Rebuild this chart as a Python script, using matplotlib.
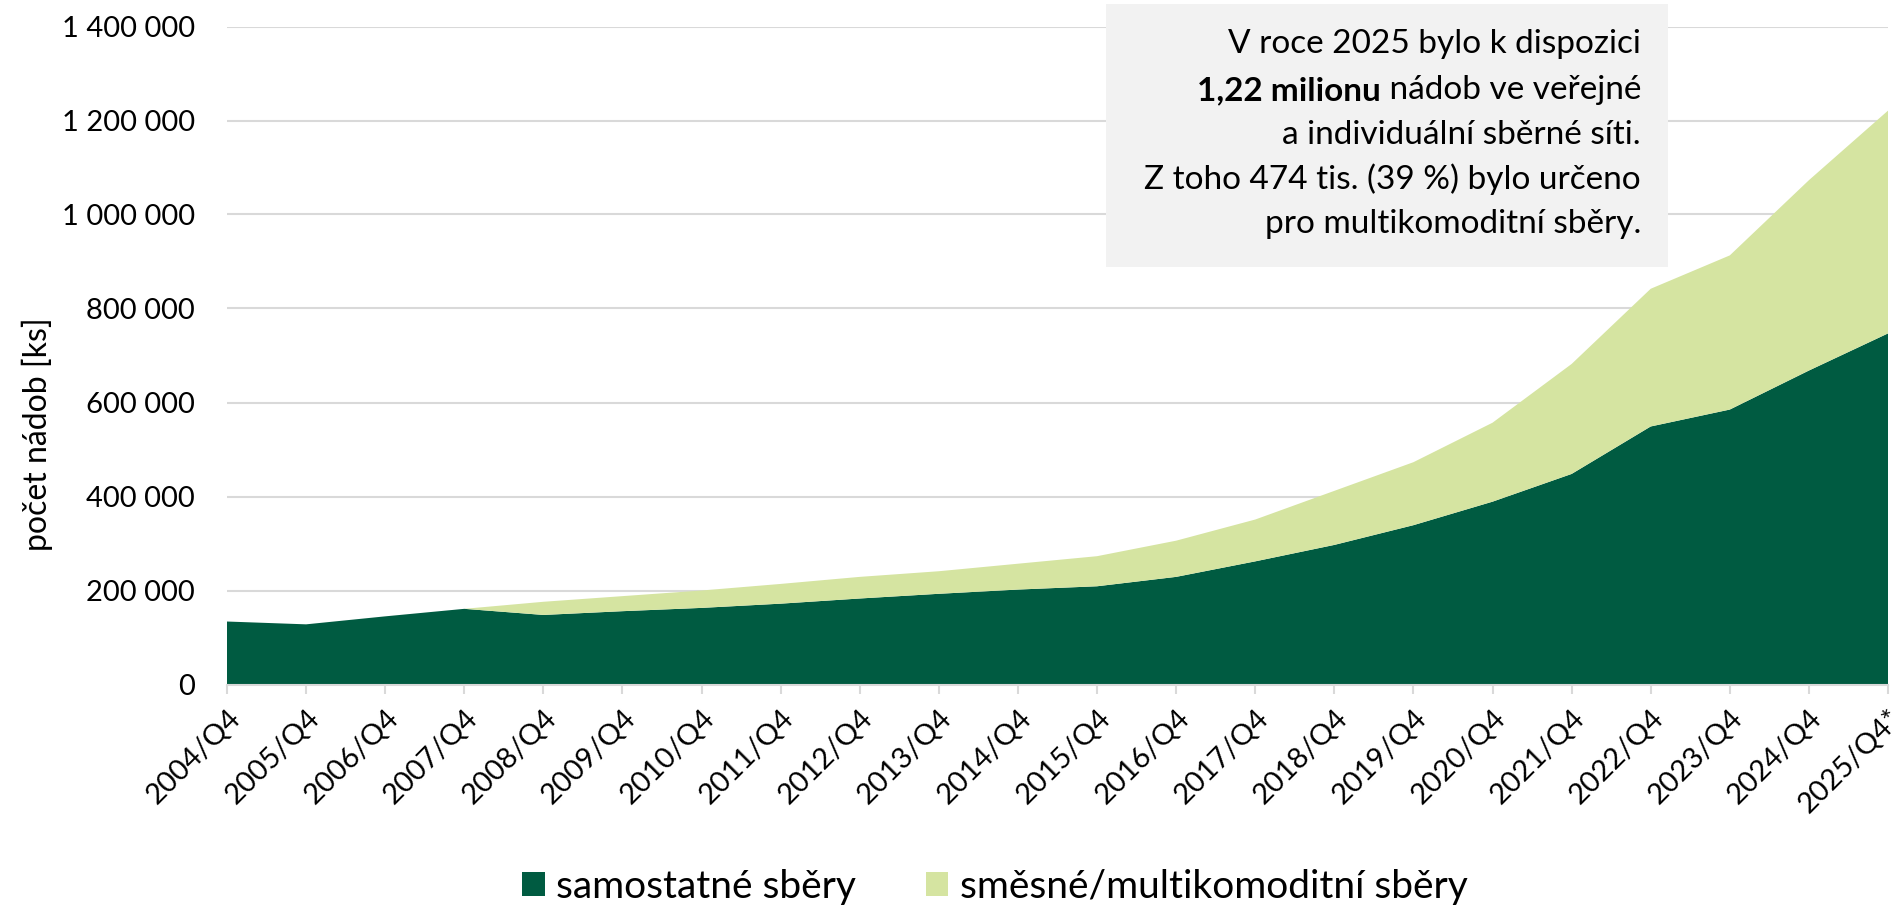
import numpy as np
import matplotlib.pyplot as plt
from matplotlib.patches import Rectangle, Patch
from matplotlib.text import Annotation
from matplotlib.ticker import FuncFormatter

plt.rcParams['font.family'] = ['Lato', 'DejaVu Sans']

# data (thousands of containers)
obdobi = ['2004/Q4', '2005/Q4', '2006/Q4', '2007/Q4', '2008/Q4', '2009/Q4',
          '2010/Q4', '2011/Q4', '2012/Q4', '2013/Q4', '2014/Q4', '2015/Q4',
          '2016/Q4', '2017/Q4', '2018/Q4', '2019/Q4', '2020/Q4', '2021/Q4',
          '2022/Q4', '2023/Q4', '2024/Q4', '2025/Q4*']
samostatne = [134, 128, 145, 161, 148, 156, 163, 172, 183, 193, 202, 209,
              229, 262, 297, 339, 389, 448, 549, 585, 668, 747]
smesne = [0, 0, 0, 0, 28, 32, 37, 42, 46, 48, 55, 64,
          77, 89, 115, 134, 168, 234, 293, 328, 405, 474]
nazvy = ['samostatné sběry', 'směsné/multikomoditní sběry']
barvy = ['#005B41', '#D5E4A1']

W, H = 1893, 906
fig = plt.figure(figsize=(W/100, H/100), dpi=100)
ax = fig.add_axes([227/W, 1-684.5/H, 1661/W, 658/H])

x = np.arange(len(obdobi))
ax.stackplot(x, np.array(samostatne)*1000, np.array(smesne)*1000,
             colors=barvy, linewidth=0)

ax.set_xlim(0, len(obdobi)-1)
ax.set_ylim(0, 1400000)
ax.set_yticks(np.arange(0, 1400001, 200000))
ax.yaxis.set_major_formatter(FuncFormatter(lambda v, p: f'{v:,.0f}'.replace(',', ' ')))
ax.set_xticks(x)
ax.set_xticklabels(obdobi, rotation=45, ha='right', va='top', rotation_mode='anchor')

ax.grid(axis='y', color='#d9d9d9', linewidth=1.5)
ax.set_axisbelow(True)
for s in ['left', 'right', 'top']:
    ax.spines[s].set_visible(False)
ax.spines['bottom'].set_color('#d9d9d9')
ax.spines['bottom'].set_linewidth(1.5)
ax.tick_params(axis='y', length=0, pad=23, labelsize=21)
ax.tick_params(axis='x', length=6.5, width=1.5, color='#d9d9d9', pad=8, labelsize=21)

ax.set_ylabel('počet nádob [ks]', fontsize=23)
ax.yaxis.set_label_coords((53-227)/1661, 0.38)

# info box
fig.add_artist(Rectangle((1106/W, 1-267/H), 562/W, 263/H, transform=fig.transFigure,
                         facecolor='#F2F2F2', edgecolor='none', zorder=1))
xr = 1641/W
fs = 24
radky = [(53, 'V roce 2025 bylo k dispozici'),
         (99, None),
         (144, 'a individuální sběrné síti.'),
         (189, 'Z toho 474 tis. (39 %) bylo určeno'),
         (233, 'pro multikomoditní sběry.')]
for yb, t in radky:
    if t is None:
        tn = fig.text(xr, 1-yb/H, ' nádob ve veřejné', ha='right', va='baseline',
                      fontsize=fs, zorder=3)
        fig.add_artist(Annotation('1,22 milionu', xy=(0, 0), xycoords=tn,
                                  ha='right', va='bottom', fontsize=fs,
                                  fontweight='bold', zorder=3))
    else:
        fig.text(xr, 1-yb/H, t, ha='right', va='baseline', fontsize=fs, zorder=3)

handles = [Patch(facecolor=c, edgecolor='none') for c in barvy]
ax.legend(handles, nazvy, loc='center', bbox_to_anchor=(995/W, 1-887/H),
          bbox_transform=fig.transFigure, ncol=2, frameon=False, fontsize=28,
          handlelength=0.57, handleheight=0.57, handletextpad=0.3,
          columnspacing=1.8, borderpad=0)

fig.savefig('out.png', dpi=100)
